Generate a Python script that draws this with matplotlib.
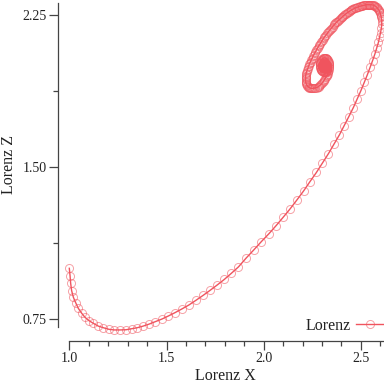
import matplotlib
matplotlib.use("Agg")
import matplotlib.pyplot as plt
from matplotlib.ticker import MultipleLocator, FixedLocator, FormatStrFormatter

plt.rcParams['font.family'] = ['Liberation Serif', 'DejaVu Serif']

# Lorenz trajectory (X vs Z), in three pieces
rise_x = [
    1.000, 1.004, 1.007, 1.012, 1.021, 1.033, 1.046, 1.064, 1.081, 1.101,
    1.123, 1.149, 1.175, 1.204, 1.231, 1.261, 1.292, 1.321, 1.350, 1.380,
    1.411, 1.443, 1.477, 1.510, 1.543, 1.578, 1.615, 1.651, 1.689, 1.725,
    1.761, 1.797, 1.833, 1.870, 1.909, 1.949, 1.988, 2.027, 2.064, 2.101,
    2.137, 2.172, 2.206, 2.238, 2.271, 2.302, 2.333, 2.361, 2.389, 2.414,
    2.438, 2.461, 2.481, 2.500, 2.517, 2.533, 2.547, 2.560, 2.572, 2.581,
    2.590, 2.596, 2.601, 2.605, 2.607,
]
rise_z = [
    1.000, 0.962, 0.926, 0.890, 0.857, 0.830, 0.803, 0.778, 0.758, 0.742,
    0.729, 0.715, 0.707, 0.699, 0.696, 0.696, 0.697, 0.702, 0.707, 0.715,
    0.725, 0.737, 0.750, 0.765, 0.781, 0.799, 0.819, 0.842, 0.867, 0.892,
    0.918, 0.945, 0.975, 1.007, 1.050, 1.091, 1.132, 1.171, 1.211, 1.253,
    1.295, 1.339, 1.383, 1.428, 1.473, 1.519, 1.566, 1.612, 1.658, 1.704,
    1.749, 1.793, 1.836, 1.877, 1.917, 1.955, 1.991, 2.025, 2.058, 2.087,
    2.115, 2.140, 2.163, 2.184, 2.204,
]
arc_x = [
    2.607, 2.606, 2.605, 2.603, 2.601, 2.599, 2.596, 2.594, 2.591, 2.588,
    2.584, 2.581, 2.577, 2.573, 2.569, 2.565, 2.561, 2.557, 2.552, 2.548,
    2.543, 2.539, 2.535, 2.530, 2.525, 2.521, 2.516, 2.512, 2.507, 2.503,
    2.498, 2.493, 2.488, 2.484, 2.479, 2.475, 2.470, 2.466, 2.461, 2.456,
    2.451, 2.447, 2.442, 2.438, 2.433, 2.429, 2.424, 2.419, 2.414, 2.410,
    2.405, 2.401, 2.396, 2.392, 2.387, 2.382, 2.377, 2.373, 2.368, 2.364,
    2.359, 2.355, 2.350, 2.345, 2.340, 2.336, 2.331, 2.327, 2.322, 2.317,
    2.312, 2.308, 2.304, 2.300, 2.295, 2.291, 2.286, 2.282, 2.278, 2.274,
    2.270, 2.266, 2.262, 2.258, 2.254, 2.251, 2.247, 2.244, 2.241, 2.237,
    2.234, 2.232, 2.229, 2.226, 2.224, 2.221, 2.219, 2.217, 2.216, 2.215,
    2.215, 2.215, 2.215, 2.216, 2.217, 2.219, 2.221, 2.224, 2.227, 2.231,
    2.235, 2.240, 2.245, 2.250, 2.255, 2.261, 2.266, 2.272, 2.277,
]
arc_z = [
    2.221, 2.230, 2.238, 2.245, 2.252, 2.259, 2.265, 2.271, 2.276, 2.280,
    2.284, 2.288, 2.291, 2.294, 2.296, 2.298, 2.299, 2.300, 2.301, 2.301,
    2.301, 2.301, 2.301, 2.301, 2.300, 2.299, 2.298, 2.297, 2.296, 2.295,
    2.294, 2.293, 2.291, 2.289, 2.287, 2.286, 2.284, 2.282, 2.279, 2.277,
    2.274, 2.272, 2.269, 2.266, 2.263, 2.260, 2.256, 2.253, 2.249, 2.246,
    2.242, 2.238, 2.234, 2.230, 2.226, 2.222, 2.217, 2.213, 2.208, 2.203,
    2.198, 2.193, 2.187, 2.182, 2.176, 2.171, 2.165, 2.159, 2.153, 2.147,
    2.141, 2.135, 2.128, 2.122, 2.115, 2.109, 2.102, 2.096, 2.089, 2.082,
    2.075, 2.068, 2.061, 2.054, 2.047, 2.040, 2.033, 2.027, 2.020, 2.013,
    2.006, 1.999, 1.992, 1.985, 1.978, 1.971, 1.964, 1.958, 1.951, 1.945,
    1.938, 1.932, 1.926, 1.920, 1.914, 1.909, 1.905, 1.901, 1.897, 1.894,
    1.891, 1.889, 1.888, 1.888, 1.888, 1.889, 1.890, 1.892, 1.894,
]
tail_x = [
    2.282, 2.286, 2.291, 2.296, 2.300, 2.304, 2.308, 2.312, 2.316, 2.320,
    2.323, 2.326, 2.329, 2.331, 2.333, 2.335, 2.336, 2.337, 2.337, 2.337,
    2.337, 2.336, 2.335, 2.333, 2.331, 2.328, 2.325, 2.322, 2.319, 2.316,
    2.312, 2.309, 2.306, 2.303, 2.300, 2.298, 2.295, 2.293, 2.291, 2.290,
    2.289, 2.289, 2.289, 2.289, 2.290, 2.291, 2.293, 2.295, 2.297, 2.300,
    2.302, 2.305, 2.308, 2.311, 2.314, 2.317, 2.320, 2.322, 2.324, 2.326,
    2.327, 2.328, 2.328, 2.328, 2.328, 2.327, 2.326, 2.324, 2.323, 2.321,
    2.319, 2.316, 2.314, 2.311, 2.309, 2.307, 2.305, 2.303, 2.302, 2.301,
    2.300, 2.300, 2.300, 2.301, 2.302, 2.304, 2.306, 2.308, 2.310, 2.312,
    2.314, 2.316, 2.317, 2.318, 2.318, 2.318, 2.318, 2.317, 2.316, 2.314,
    2.312, 2.311, 2.309, 2.308, 2.307, 2.307, 2.307, 2.308, 2.309, 2.310,
    2.311, 2.312, 2.312, 2.312, 2.311, 2.310, 2.309,
]
tail_z = [
    1.897, 1.901, 1.905, 1.909, 1.914, 1.919, 1.924, 1.930, 1.936, 1.942,
    1.948, 1.954, 1.961, 1.967, 1.973, 1.980, 1.986, 1.992, 1.998, 2.004,
    2.010, 2.015, 2.020, 2.024, 2.028, 2.031, 2.034, 2.036, 2.037, 2.038,
    2.038, 2.038, 2.037, 2.035, 2.033, 2.030, 2.027, 2.023, 2.019, 2.015,
    2.011, 2.006, 2.001, 1.996, 1.991, 1.987, 1.983, 1.980, 1.977, 1.974,
    1.972, 1.970, 1.969, 1.969, 1.969, 1.970, 1.971, 1.973, 1.975, 1.978,
    1.981, 1.984, 1.987, 1.990, 1.993, 1.996, 1.999, 2.002, 2.004, 2.007,
    2.009, 2.010, 2.011, 2.011, 2.011, 2.010, 2.009, 2.007, 2.005, 2.003,
    2.000, 1.998, 1.996, 1.994, 1.992, 1.990, 1.989, 1.988, 1.987, 1.987,
    1.988, 1.989, 1.990, 1.992, 1.994, 1.996, 1.998, 1.999, 2.001, 2.002,
    2.002, 2.002, 2.002, 2.001, 1.999, 1.998, 1.997, 1.996, 1.995, 1.995,
    1.995, 1.996, 1.997, 1.998, 1.999, 1.999, 1.999,
]
series_name = "Lorenz"
x_title = "Lorenz X"
z_title = "Lorenz Z"
x_major = [1.0, 1.5, 2.0, 2.5]
z_major = [0.75, 1.50, 2.25]
z_minor = [1.125, 1.875]

lorenz_x = rise_x + arc_x + tail_x
lorenz_z = rise_z + arc_z + tail_z

line_color = '#f0545e'
axis_color = '#444444'
text_color = '#222222'

fig = plt.figure(figsize=(3.84, 3.84), dpi=100)
W = H = 384.0
ax = fig.add_axes([69.3 / W, 57 / H, 314 / W, 324 / H])

ax.plot(lorenz_x, lorenz_z, color=line_color, lw=1.0, marker='o',
        markersize=5.8, markerfacecolor='none',
        markeredgecolor=(0.94, 0.33, 0.37, 0.55), markeredgewidth=0.7,
        clip_on=False, label=series_name, zorder=3)

ax.set_xlim(1.0, 2.615)
ax.set_ylim(0.7105, 2.309)

for s in ('top', 'right'):
    ax.spines[s].set_visible(False)
ax.spines['left'].set_position(('outward', 8.1))
ax.spines['bottom'].set_position(('outward', 10.1))
for s in ('left', 'bottom'):
    ax.spines[s].set_color(axis_color)
    ax.spines[s].set_linewidth(0.9)

ax.xaxis.set_major_locator(FixedLocator(x_major))
ax.xaxis.set_minor_locator(MultipleLocator(0.1))
ax.xaxis.set_major_formatter(FormatStrFormatter('%.1f'))
ax.yaxis.set_major_locator(FixedLocator(z_major))
ax.yaxis.set_minor_locator(FixedLocator(z_minor))
ax.yaxis.set_major_formatter(FormatStrFormatter('%.2f'))

ax.tick_params(axis='both', which='major', length=6.5, width=0.9,
               color=axis_color, labelcolor=text_color, labelsize=10, pad=1.5)
ax.tick_params(axis='both', which='minor', length=3.3, width=0.9,
               color=axis_color)

ax.set_xlabel(x_title, fontsize=11.5, color=text_color)
ax.set_ylabel(z_title, fontsize=11.5, color=text_color)
ax.xaxis.set_label_coords(0.496, -0.128)
ax.yaxis.set_label_coords(-0.168, 0.5)

leg = ax.legend(loc='center right', bbox_to_anchor=(383.5 / W, 58 / H),
                bbox_transform=fig.transFigure, frameon=False, markerfirst=False,
                borderpad=0, borderaxespad=0, handlelength=1.75,
                handletextpad=0.3, fontsize=11.5)
for t in leg.get_texts():
    t.set_color(text_color)

fig.savefig('out.png', dpi=100)
